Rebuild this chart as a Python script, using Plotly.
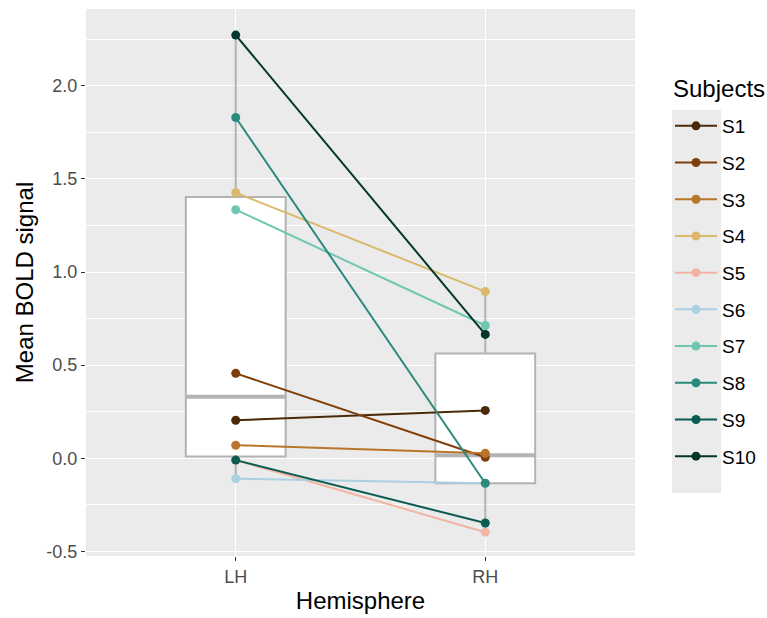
import numpy as np
import plotly.graph_objects as go

hemispheres = ["LH", "RH"]
subjects = ["S1", "S2", "S3", "S4", "S5", "S6", "S7", "S8", "S9", "S10"]
lh_values = [0.204, 0.456, 0.070, 1.426, -0.010, -0.110, 1.335, 1.830, -0.010, 2.273]
rh_values = [0.257, 0.005, 0.027, 0.895, -0.397, -0.134, 0.713, -0.134, -0.348, 0.665]
subject_colors = ["#4a2a0a", "#7f3f0a", "#b8762a", "#dcb96a", "#f2b5a3",
                  "#abcfe3", "#6fc7b2", "#2a8a7c", "#0b5b50", "#04362c"]
y_tickvals = [-0.5, 0.0, 0.5, 1.0, 1.5, 2.0]
y_ticktext = ["-0.5", "0.0", "0.5", "1.0", "1.5", "2.0"]

positions = [1, 2]
box_half = 0.2
box_color = "#b3b3b3"

fig = go.Figure()

for pos, vals in zip(positions, [lh_values, rh_values]):
    v = np.array(vals)
    q1, med, q3 = np.percentile(v, [25, 50, 75])
    iqr = q3 - q1
    lo = v[v >= q1 - 1.5 * iqr].min()
    hi = v[v <= q3 + 1.5 * iqr].max()
    fig.add_trace(go.Box(
        x=[pos], q1=[q1], median=[med], q3=[q3], lowerfence=[lo], upperfence=[hi],
        width=box_half * 2, whiskerwidth=0, fillcolor="white",
        line=dict(color=box_color, width=2), showlegend=False, hoverinfo="skip",
    ))
    fig.add_trace(go.Scatter(
        x=[pos - box_half, pos + box_half], y=[med, med], mode="lines",
        line=dict(color=box_color, width=4), showlegend=False, hoverinfo="skip",
    ))

for i, s in enumerate(subjects):
    fig.add_trace(go.Scatter(
        x=positions, y=[lh_values[i], rh_values[i]], mode="lines+markers", name=s,
        line=dict(color=subject_colors[i], width=2),
        marker=dict(color=subject_colors[i], size=9),
        legendgroup=s,
    ))

P_L, P_R, P_T, P_B = 86, 635, 9, 556
W, H = 767, 618
pw, ph = P_R - P_L, P_B - P_T

fig.add_shape(type="rect", xref="paper", yref="paper",
              x0=(672 - P_L) / pw, x1=(721 - P_L) / pw,
              y0=(P_B - 493) / ph, y1=(P_B - 110) / ph,
              fillcolor="#ebebeb", line=dict(width=0), layer="below")

fig.add_annotation(text="Subjects", xref="paper", yref="paper",
                   x=(671 - P_L) / pw, y=(P_B - 88) / ph, xanchor="left", yanchor="middle",
                   showarrow=False, font=dict(size=24, color="black"))

fig.update_layout(
    width=W, height=H,
    margin=dict(l=P_L, r=W - P_R, t=P_T, b=H - P_B, autoexpand=False),
    paper_bgcolor="white", plot_bgcolor="#ebebeb",
    font=dict(family="Liberation Sans, Arial, sans-serif", color="black"),
    legend=dict(
        font=dict(size=19), x=(670 - P_L) / pw, xanchor="left",
        y=(P_B - 107) / ph, yanchor="top", traceorder="grouped",
        tracegroupgap=9, bgcolor="rgba(0,0,0,0)", itemwidth=42,
    ),
    xaxis=dict(
        range=[0.4, 2.6], tickvals=positions, ticktext=hemispheres,
        showgrid=True, gridcolor="white", gridwidth=1.4, zeroline=False,
        ticks="outside", ticklen=4, tickcolor="#333333", tickwidth=1,
        tickfont=dict(size=18, color="#4d4d4d"),
        title=dict(text="Hemisphere", font=dict(size=24), standoff=6),
    ),
    yaxis=dict(
        range=[-0.525, 2.413], tickvals=y_tickvals, ticktext=y_ticktext,
        showgrid=True, gridcolor="white", gridwidth=1.4, zeroline=False,
        ticks="outside", ticklen=4, tickcolor="#333333", tickwidth=1,
        tickfont=dict(size=18, color="#4d4d4d"),
        minor=dict(dtick=0.25, tick0=0, showgrid=True, gridcolor="white", gridwidth=0.7),
        title=dict(text="Mean BOLD signal", font=dict(size=24), standoff=5),
    ),
)

fig.write_html("out.html")
